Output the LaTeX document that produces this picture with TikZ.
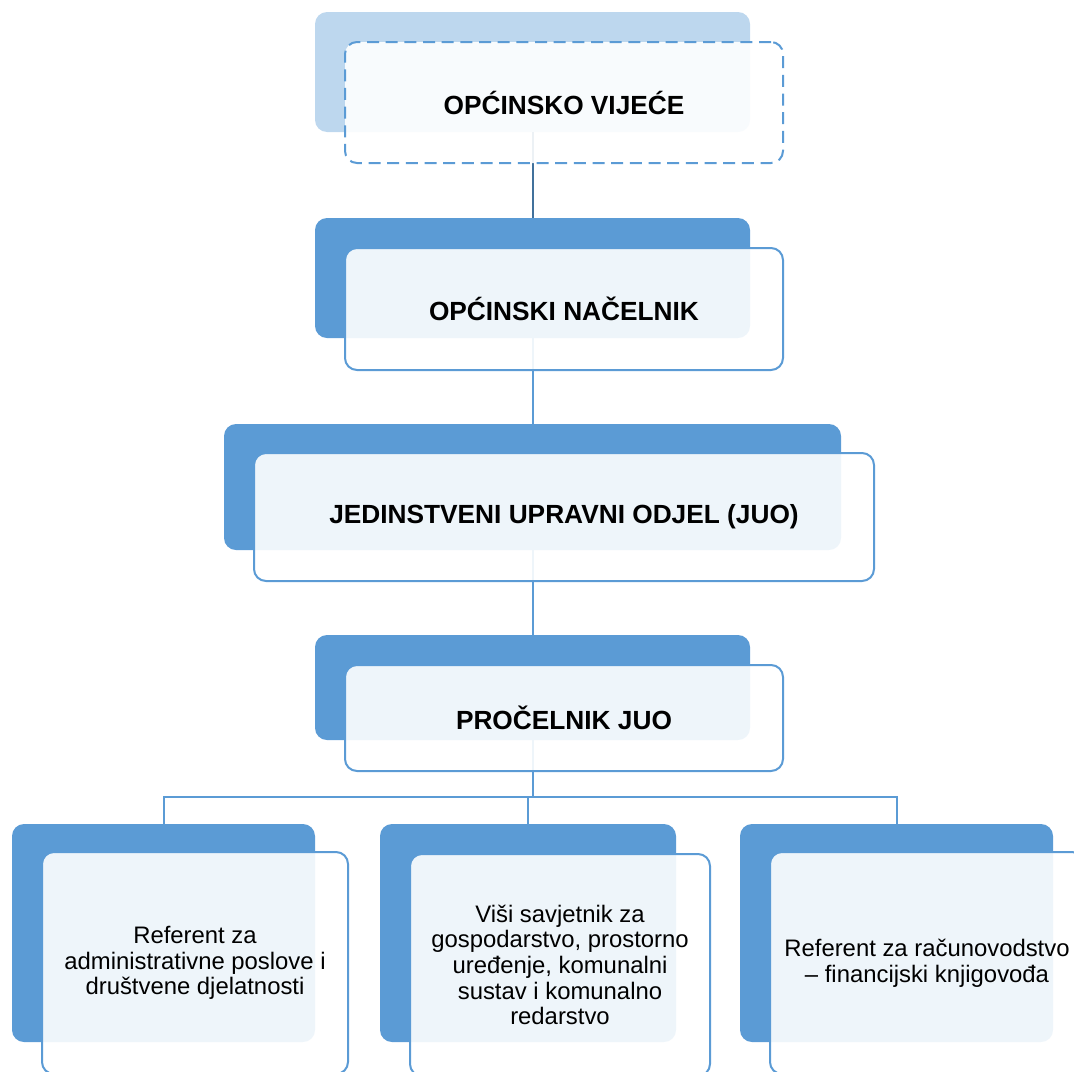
\documentclass[tikz,border=0pt]{standalone}
\usepackage{fontspec}
\setmainfont{Liberation Sans}
\usepackage{tikz}
\definecolor{accent}{HTML}{5B9BD5}
\definecolor{accentlight}{HTML}{BDD7EE}
\definecolor{accentdark}{HTML}{41719C}
\tikzset{backbox/.style={fill=accent, rounded corners=9pt, inner sep=0pt}}
\tikzset{frontbox/.style={draw=accent, line width=1.5pt, fill=white, fill opacity=0.9, text opacity=1, rounded corners=9pt, align=center, inner sep=0pt}}
\tikzset{orgline/.style={draw=accent, line width=1.5pt}}
\tikzset{headtext/.style={font=\fontsize{19.7}{23}\selectfont\bfseries}}
\tikzset{stafftext/.style={font=\fontsize{17.9}{19.2}\selectfont}}

\begin{document}
\begin{tikzpicture}[x=0.75pt,y=-0.75pt]
	\useasboundingbox (0,0) rectangle (1074,1071);
	\clip (0,0) rectangle (1074,1071);

	\node[backbox, fill=accentlight, minimum width=326.25pt, minimum height=90pt] (b1) at (532.5,72) {};
	\node[backbox, minimum width=326.25pt, minimum height=90pt] (b2) at (532.5,278) {};
	\node[backbox, minimum width=462.75pt, minimum height=94.5pt] (b3) at (532.5,487) {};
	\node[backbox, minimum width=326.25pt, minimum height=78.75pt] (b4) at (532.5,687.5) {};
	\begin{scope}[every node/.append style={rounded corners=20pt, minimum height=163.5pt}]
		\node[backbox, minimum width=227.25pt] (bl) at (163.5,933) {};
		\node[backbox, minimum width=222pt] (bm) at (528,933) {};
		\node[backbox, minimum width=234.75pt] (br) at (896.5,933) {};
	\end{scope}

	\draw[orgline, draw=accentdark] (b1) -- (b2);
	\draw[orgline] (b2) -- (b3);
	\draw[orgline] (b3) -- (b4);
	\coordinate (bus) at (532.5,797);
	\draw[orgline] (b4) -- (bus);
	\draw[orgline] (bl) |- (bus) -| (br);
	\draw[orgline] (bm) -- (bm |- bus);

	\node[frontbox, headtext, dash pattern=on 9pt off 5pt, minimum width=328.5pt, minimum height=90.75pt] (f1) at (564,102.5) {OPĆINSKO VIJEĆE};
	\node[frontbox, headtext, minimum width=328.5pt, minimum height=91.5pt] (f2) at (564,309) {OPĆINSKI NAČELNIK};
	\node[frontbox, headtext, minimum width=465pt, minimum height=96pt] (f3) at (564,517) {JEDINSTVENI UPRAVNI ODJEL (JUO)};
	\node[frontbox, headtext, minimum width=328.5pt, minimum height=79.5pt] (f4) at (564,718) {PROČELNIK JUO};
	\begin{scope}[every node/.append style={rounded corners=20pt, minimum height=166.5pt}]
		\node[frontbox, stafftext, minimum width=229.5pt] (fl) at (195,963) {Referent za\\administrativne poslove i\\društvene djelatnosti};
		\node[frontbox, stafftext, minimum width=225pt] (fm) at (560,965) {Viši savjetnik za\\gospodarstvo, prostorno\\uređenje, komunalni\\sustav i komunalno\\redarstvo};
		\node[frontbox, stafftext, minimum width=235.5pt] (fr) at (927,963) {Referent za računovodstvo\\– financijski knjigovođa};
	\end{scope}
\end{tikzpicture}
\end{document}
